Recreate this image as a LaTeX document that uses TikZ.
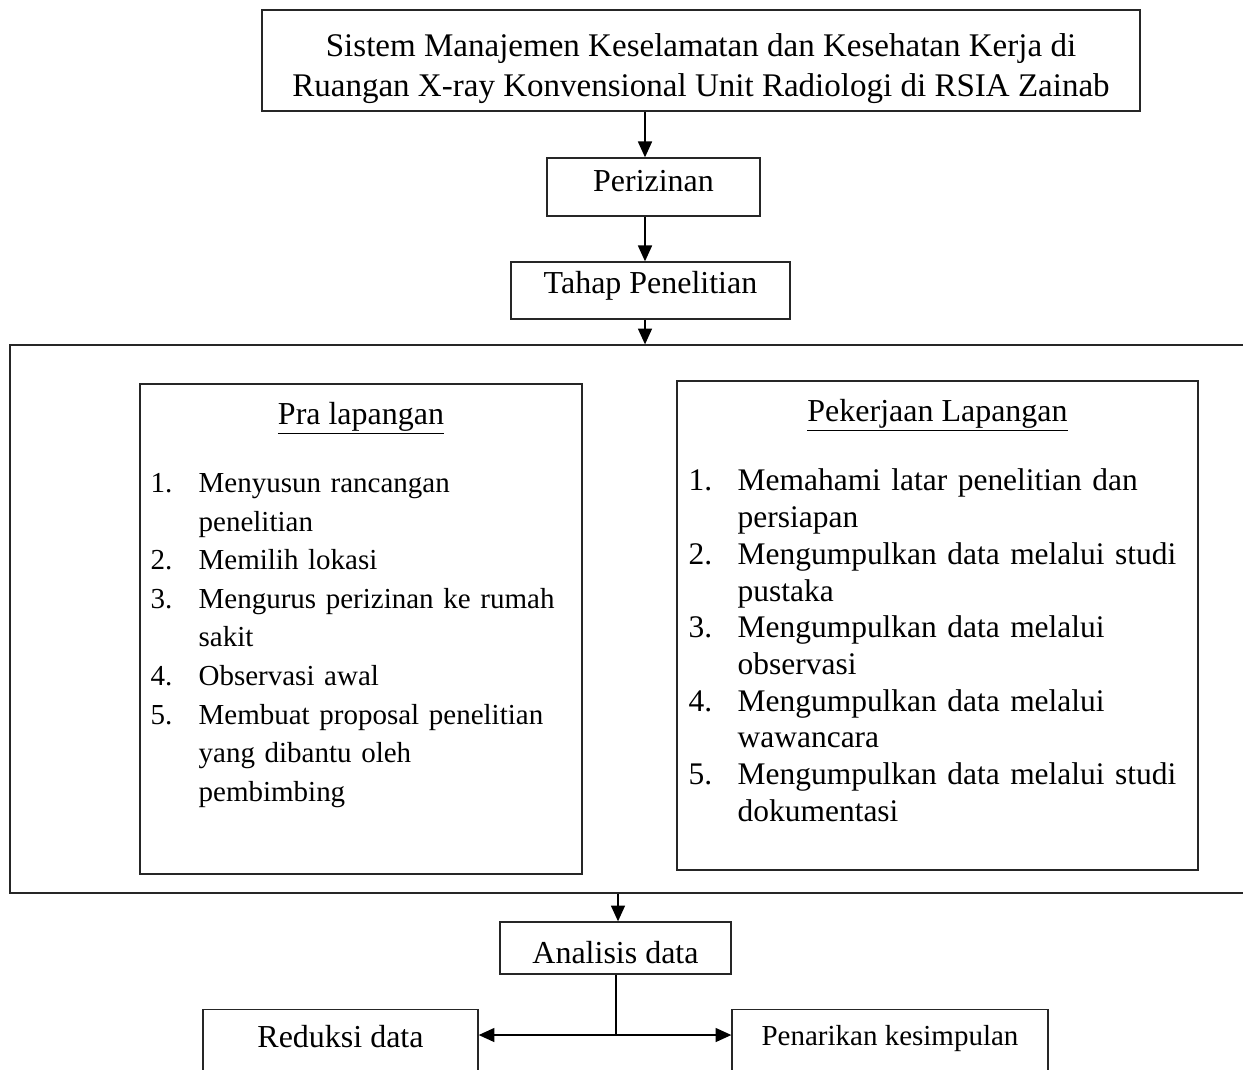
\documentclass[tikz,border=0pt]{standalone}
\usepackage{fontspec}
\setmainfont{Liberation Serif}
\usetikzlibrary{arrows.meta,positioning}

% one list item with hanging indent
\newcommand{\butir}[2]{\par\noindent\hangindent=#1\hangafter=1\makebox[#1][l]{#2}\ignorespaces}

\begin{document}
\begin{tikzpicture}[x=0.02cm,y=-0.02cm,>={Triangle[length=9pt,width=8pt]},
    line width=0.8pt,
    kotak/.style={rectangle,draw=black!85,inner sep=0pt,font=\fontsize{18.2}{22.8}\selectfont},
    daftar/.style={inner sep=0pt,anchor=north west}]
    \path[use as bounding box] (0,0) rectangle (1243,1069);
    \clip (0,0) rectangle (1243,1069);

    \node[kotak,align=center,minimum width=17.56cm,minimum height=2.02cm,
      font=\fontsize{18.8}{22.8}\selectfont] (judul) at (701,60.5)
      {\rule{0pt}{21.9pt}Sistem Manajemen Keselamatan dan Kesehatan Kerja di\\Ruangan X-ray Konvensional Unit Radiologi di RSIA Zainab};
    \node[kotak,minimum width=4.26cm,minimum height=1.16cm,text depth=6.8pt] (izin) at (653.5,187) {Perizinan};
    \node[kotak,minimum width=5.58cm,minimum height=1.14cm,text depth=9.6pt] (tahap) at (650.5,290.5) {Tahap Penelitian};

    % tahapan penelitian
    \node[kotak,minimum width=25cm,minimum height=10.96cm] (tahapan) at (635,619) {};
    \node[kotak,minimum width=8.84cm,minimum height=9.8cm] (pra) at (361,629) {};
    \node[kotak,minimum width=10.42cm,minimum height=9.78cm] (kerja) at (937.5,625.5) {};
    \node[anchor=base,inner sep=0pt,font=\fontsize{18.2}{22}\selectfont] (judulpra) at (361,424) {\underline{Pra lapangan}};
    \node[anchor=base,inner sep=0pt,font=\fontsize{18.2}{22}\selectfont] (judulkerja) at (937.5,421) {\underline{Pekerjaan Lapangan}};
    \node[daftar,text width=8.6cm,font=\fontsize{16.5}{22}\selectfont] (daftarpra) at (150,453) {%
      \butir{27.3pt}{1.}Menyusun rancangan\newline penelitian
      \butir{27.3pt}{2.}Memilih lokasi
      \butir{27.3pt}{3.}Mengurus perizinan ke rumah\newline sakit
      \butir{27.3pt}{4.}Observasi awal
      \butir{27.3pt}{5.}Membuat proposal penelitian\newline yang dibantu oleh\newline pembimbing\par};
    \node[daftar,text width=10cm,font=\fontsize{17.9}{20.9}\selectfont] (daftarkerja) at (688,453.5) {%
      \butir{27.9pt}{1.}Memahami latar penelitian dan\newline persiapan
      \butir{27.9pt}{2.}Mengumpulkan data melalui studi\newline pustaka
      \butir{27.9pt}{3.}Mengumpulkan data melalui\newline observasi
      \butir{27.9pt}{4.}Mengumpulkan data melalui\newline wawancara
      \butir{27.9pt}{5.}Mengumpulkan data melalui studi\newline dokumentasi\par};

    % analisis data
    \node[kotak,minimum width=4.62cm,minimum height=1.04cm,text height=18.1pt] (analisis) at (615.5,948) {Analisis data};
    \node[kotak,anchor=north,minimum width=5.5cm,text height=0.76cm,text depth=1.2cm] (reduksi) at (340.5,1009) {Reduksi data};
    \node[kotak,anchor=north,minimum width=6.32cm,text height=0.72cm,text depth=1.2cm,
      font=\fontsize{16.5}{20}\selectfont] (penarikan) at (890,1009) {Penarikan kesimpulan};

    \coordinate (sumbu) at (645,0);
    \coordinate (sumbudua) at (618,0);
    \coordinate (cabang) at (616,1035);
    \path[->]
    (judul.south -| sumbu) edge (izin.north -| sumbu)
    (izin.south -| sumbu) edge (tahap.north -| sumbu)
    (tahap.south -| sumbu) edge (tahapan.north -| sumbu)
    (tahapan.south -| sumbudua) edge (analisis.north -| sumbudua);
    \draw (analisis.south -| cabang) -- (cabang);
    \draw[->] (cabang) -- (reduksi.east |- cabang);
    \draw[->] (cabang) -- (penarikan.west |- cabang);
\end{tikzpicture}
\end{document}
